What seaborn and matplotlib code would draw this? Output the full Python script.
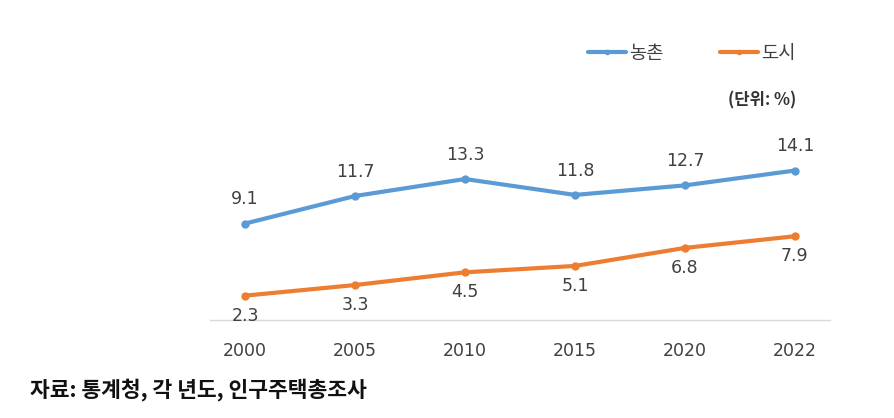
import matplotlib.pyplot as plt
import seaborn as sns
import pandas as pd

years = ['2000', '2005', '2010', '2015', '2020', '2022']
rural = [9.1, 11.7, 13.3, 11.8, 12.7, 14.1]
urban = [2.3, 3.3, 4.5, 5.1, 6.8, 7.9]
series_names = ['농촌', '도시']

sns.set_style('white')
plt.rcParams['font.family'] = ['Noto Sans CJK KR', 'DejaVu Sans']
num_font = ['DejaVu Sans']

pos = list(range(len(years)))
data = pd.DataFrame({
    'x': pos + pos,
    'value': rural + urban,
    'area': [series_names[0]] * len(years) + [series_names[1]] * len(years),
})

colors = {'농촌': '#5B9BD5', '도시': '#ED7D31'}
grey = '#404040'

fig = plt.figure(figsize=(8.95, 4.18), dpi=100)
ax = fig.add_axes([210 / 895, (418 - 320) / 418, 620 / 895, 265 / 418])

sns.lineplot(data=data, x='x', y='value', hue='area', palette=colors,
             marker='o', markersize=6, markeredgewidth=0, linewidth=3,
             ax=ax, legend=False)

for i, v in enumerate(rural):
    ax.annotate(f'{v}', (i, v), xytext=(0, 11), textcoords='offset points',
                ha='center', va='bottom', fontsize=12.5, color=grey,
                family=num_font, clip_on=False)
for i, v in enumerate(urban):
    ax.annotate(f'{v}', (i, v), xytext=(0, -8), textcoords='offset points',
                ha='center', va='top', fontsize=12.5, color=grey,
                family=num_font, clip_on=False)

ax.set_xlim(-0.32, 5.32)
ax.set_ylim(0, 25)
ax.set_xticks(pos)
ax.set_xticklabels(years, fontsize=12.5, color=grey, family=num_font)
ax.tick_params(axis='x', length=0, pad=16)
ax.set_yticks([])
ax.set_xlabel('')
ax.set_ylabel('')
for side in ['top', 'right', 'left']:
    ax.spines[side].set_visible(False)
ax.spines['bottom'].set_color('#d9d9d9')
ax.spines['bottom'].set_linewidth(1)

# legend at the top
handles = [plt.Line2D([0], [0], color=colors[n], lw=3, marker='o', markersize=4,
                      markeredgewidth=0) for n in series_names]
fig.legend(handles, series_names, loc='center', bbox_to_anchor=(692 / 895, 1 - 53 / 418),
           ncol=2, frameon=False, fontsize=13.5, handlelength=2.0, handletextpad=0.2,
           columnspacing=3.0, labelcolor=grey)

fig.text(762 / 895, 1 - 100 / 418, '(단위: %)', ha='center', va='center',
         fontsize=12, fontweight='bold', color='#333333')
fig.text(30 / 895, 1 - 390 / 418, '자료: 통계청, 각 년도, 인구주택총조사', ha='left',
         va='center', fontsize=15.5, fontweight='bold', color='#111111')

fig.savefig('out.png', dpi=100)
